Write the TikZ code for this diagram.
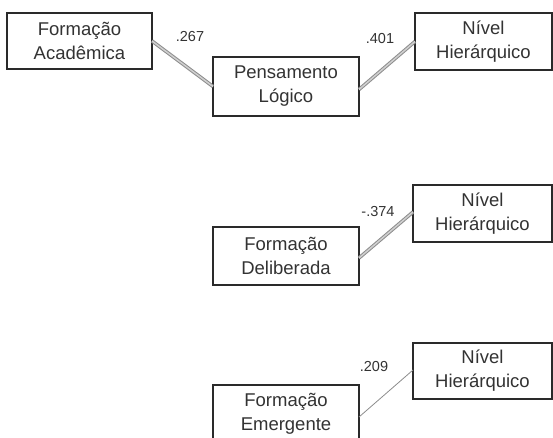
\documentclass[tikz,border=0pt]{standalone}
\usepackage{fontspec}
\setmainfont{Liberation Sans}
\definecolor{txt}{HTML}{333333}
\definecolor{brd}{HTML}{2A2A2A}
\definecolor{lnk}{HTML}{8C8C8C}
\definecolor{lnkcore}{HTML}{D0D0D0}
\begin{document}
\begin{tikzpicture}[x=1pt,y=-1pt,
  var/.style={draw=brd,line width=1.8pt,fill=white,text=txt,align=center,
    inner sep=0pt,outer sep=0pt,
    font=\fontsize{18.5}{24}\selectfont},
  coef/.style={text=txt,inner sep=0pt,font=\fontsize{14.5}{16}\selectfont},
  dbl/.style={draw=lnk,line width=1pt,double=lnkcore,double distance=1.5pt},
  sgl/.style={draw=lnk,line width=0.8pt}]
\useasboundingbox (0,0) rectangle (553,438);
\clip (0,0) rectangle (553,438);
\node[var,minimum width=145pt,minimum height=56pt] (aca) at (79.5,41) {Formação\\Acadêmica};
\node[var,minimum width=146pt,minimum height=59pt] (pen) at (286,86.5) {Pensamento\\Lógico};
\node[var,minimum width=137pt,minimum height=57pt] (niv1) at (483.5,41.5) {Nível\\Hierárquico};
\node[var,minimum width=139pt,minimum height=57pt] (niv2) at (482.5,213.5) {Nível\\Hierárquico};
\node[var,minimum width=146pt,minimum height=58pt] (del) at (286,256) {Formação\\Deliberada};
\node[var,minimum width=139pt,minimum height=56pt] (niv3) at (482.5,371) {Nível\\Hierárquico};
\node[var,minimum width=146pt,minimum height=58pt] (eme) at (286,414) {Formação\\Emergente};
\draw[dbl] (aca.east) -- (pen.west);
\draw[dbl] ([yshift=-3pt]pen.east) -- (niv1.west);
\draw[dbl] ([yshift=-2pt]del.east) -- ([yshift=1.5pt]niv2.west);
\draw[sgl] ([yshift=-3pt]eme.east) -- ([yshift=1pt]niv3.west);
\node[coef] (c1) at (190,37) {.267};
\node[coef] (c2) at (380,39) {.401};
\node[coef] (c3) at (378,212) {-.374};
\node[coef] (c4) at (374,367) {.209};
\end{tikzpicture}
\end{document}
